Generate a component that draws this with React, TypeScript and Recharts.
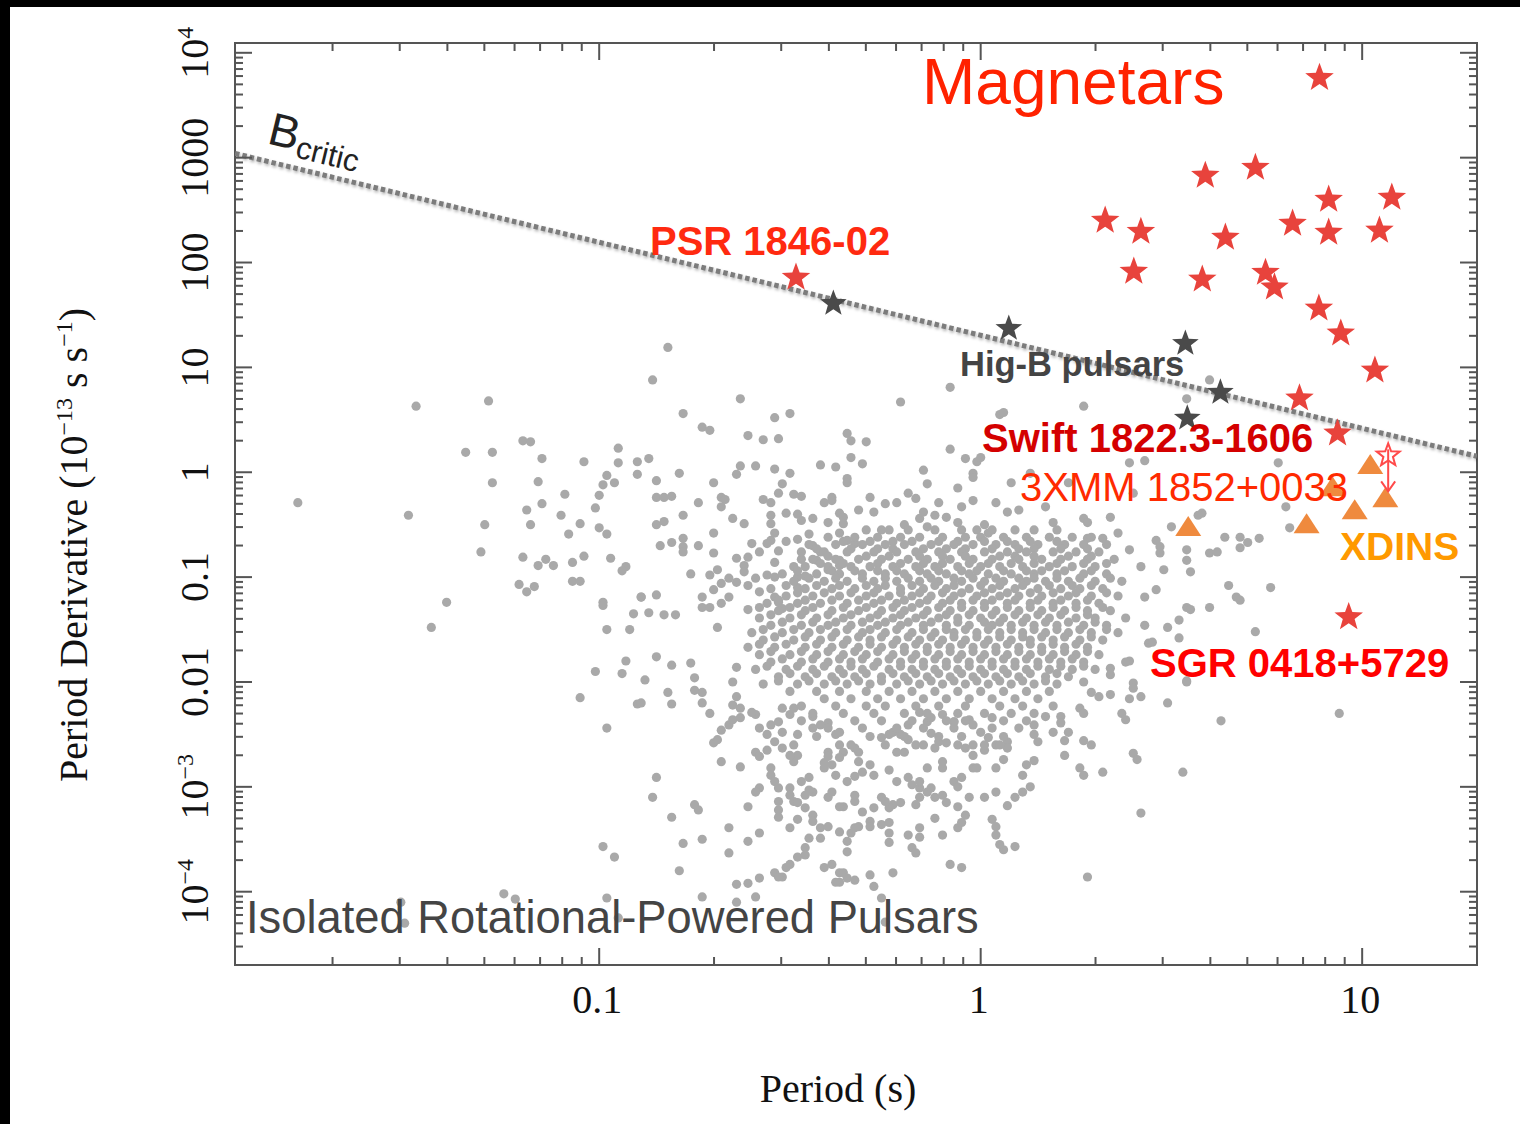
import { ScatterChart, Scatter, XAxis, YAxis, ReferenceArea } from 'recharts';

// ---- axes ----
const X_DOMAIN: [number, number] = [0.0111, 20.0];
const Y_DOMAIN: [number, number] = [2.0e-5, 12400];

const xMajorTicks = [0.1, 1, 10];
const xTickLabels = ['0.1', '1', '10'];
const yMajorTicks = [1e-4, 1e-3, 0.01, 0.1, 1, 10, 100, 1000, 1e4];
const yTickLabels = ['10^−4', '10^−3', '0.01', '0.1', '1', '10', '100', '1000', '10^4'];

// ---- data: period P (s), period derivative Pdot (1e-13 s/s) ----
const magnetars: [number, number][] = [
  [7.73, 5780], [3.88, 674], [5.25, 803], [8.17, 398], [11.96, 416],
  [6.57, 235], [8.17, 193], [11.1, 202], [4.38, 173], [2.63, 197],
  [2.12, 251], [2.52, 82], [3.81, 69], [5.58, 80], [5.89, 58],
  [7.7, 36.5], [8.79, 21.1], [10.8, 9.36], [6.85, 5.07], [8.62, 2.35],
  [9.22, 0.0416], [0.328, 71.9],
];
const highBPulsars: [number, number][] = [
  [0.411, 40.7], [1.185, 23.5], [3.44, 16.9], [4.25, 5.78], [3.48, 3.27],
];
const xdins: [number, number][] = [
  [3.5, 0.30], [7.15, 0.32], [9.56, 0.435], [10.5, 1.17], [11.5, 0.565], [8.36, 0.72],
];
const upperLimit: [number, number][] = [[11.7, 1.45]];
const bCritic: [number, number][] = [[0.0111, 1097], [20.0, 1.42]];

// rotation-powered pulsars, read as [log10 P, log10 Pdot]
const pulsarsOuter: [number, number][] = [
  [-1.79, -0.29], [-1.50, -0.41], [-1.48, 0.63], [-1.29, 0.68], [-1.35, 0.19], [-1.28, 0.19], [-1.20, 0.30], [-1.18, 0.29],
  [-1.15, 0.13], [-1.28, -0.10], [-1.16, -0.09], [-1.04, 0.10], [-0.95, 0.23], [-0.95, 0.09], [-0.90, 0.10], [-0.90, -0.02],
  [-0.98, -0.03], [-0.96, -0.10], [-0.99, -0.12], [-1.00, -0.22], [-1.09, -0.21], [-1.15, -0.30], [-1.19, -0.36], [-1.18, -0.50],
  [-1.30, -0.50], [-1.10, -0.41], [-1.05, -0.49], [-1.08, -0.59], [-1.01, -0.34], [-1.00, -0.53], [-0.98, -0.59], [-1.31, -0.76],
  [-1.20, -0.81], [-1.14, -0.83], [-1.16, -0.89], [-1.12, -0.89], [-1.07, -0.86], [-1.04, -0.80], [-0.97, -0.82], [-0.93, -0.90],
  [-0.94, -0.94], [-1.21, -1.07], [-1.17, -1.09], [-1.19, -1.14], [-1.07, -1.04], [-1.05, -1.04], [-0.99, -1.24], [-0.99, -1.27],
  [-0.91, -1.35], [-0.89, -1.19], [-1.40, -1.24], [-1.44, -1.48], [-0.98, -1.50], [-0.92, -1.50],
  [-0.93, -1.80], [-1.01, -1.90], [-0.94, -1.92], [-1.05, -2.15], [-0.90, -2.21], [-0.98, -2.44], [-0.99, -3.57], [-0.96, -3.67],
  [-1.25, -4.02], [-1.22, -4.07], [-0.98, -4.06], [-0.95, -4.25], [-1.52, -4.10], [-1.51, -4.30],
  // upper middle
  [-0.82, 1.19], [-0.86, 0.88], [-0.63, 0.70], [-0.78, 0.56], [-0.54, 0.52], [-0.50, 0.56], [-0.73, 0.43], [-0.71, 0.40],
  [-0.61, 0.35], [-0.57, 0.31], [-0.53, 0.32], [-0.35, 0.37], [-0.34, 0.30], [-0.30, 0.29], [-0.21, 0.67], [-0.08, 0.81],
  [-0.08, 0.22], [-0.04, 0.13], [-0.01, 0.10], [0.00, 0.14], [-0.02, -0.01], [-0.02, -0.05], [0.05, 0.55], [-0.87, 0.13],
  [-0.79, -0.01], [-0.85, -0.08], [-0.63, 0.06], [-0.64, -0.02], [-0.59, 0.06], [-0.54, 0.03], [-0.50, -0.01], [-0.42, 0.07],
  [-0.38, 0.05], [-0.34, 0.14], [-0.31, 0.08], [-0.35, -0.06], [-0.35, -0.10], [-0.15, 0.02], [-0.14, -0.11], [-0.06, -0.15],
  [-0.70, -0.10], [-0.52, -0.11], [-0.53, -0.20], [-0.49, -0.21], [-0.47, -0.23], [-0.85, -0.24], [-0.83, -0.24], [-0.81, -0.23],
  [-0.74, -0.29], [-0.68, -0.24], [-0.67, -0.26], [-0.68, -0.33], [-0.57, -0.26], [-0.55, -0.29], [-0.41, -0.29], [-0.39, -0.24],
  [-0.39, -0.27], [-0.29, -0.24], [-0.25, -0.30], [-0.22, -0.29], [-0.19, -0.20], [-0.17, -0.25], [-0.11, -0.29], [-0.05, -0.33],
  [-0.02, -0.27], [0.04, -0.29], [-0.32, -0.36], [-0.28, -0.38], [-0.78, -0.41], [-0.85, -0.50], [-0.83, -0.47], [-0.65, -0.44],
  [-0.62, -0.49], [-0.55, -0.41], [-0.55, -0.49], [-0.51, -0.39], [-0.48, -0.40], [-0.47, -0.46], [-0.44, -0.44], [-0.40, -0.48],
  [-0.37, -0.39], [-0.36, -0.43], [-0.36, -0.49], [-0.26, -0.55], [-0.20, -0.50], [-0.16, -0.44], [-0.15, -0.38], [-0.12, -0.41],
  [-0.09, -0.43], [-0.06, -0.48], [-0.14, -0.52], [-0.01, -0.55], [0.01, -0.50], [0.02, -0.58], [-0.70, -0.58], [-0.84, -0.70],
  [-0.81, -0.67], [-0.78, -0.63], [-0.78, -0.71], [-0.78, -0.76], [-0.74, -0.70], [-0.70, -0.77], [-0.60, -0.68], [-0.55, -0.65],
  [-0.54, -0.58], [-0.56, -0.68], [-0.51, -0.66], [-0.48, -0.64], [-0.45, -0.59], [-0.58, -0.76], [-0.53, -0.75], [-0.64, -0.82],
  [-0.61, -0.81], [-0.62, -0.89], [-0.62, -0.95], [-0.54, -0.86], [-0.47, -0.83], [-0.76, -0.97], [-0.71, -0.98], [-0.69, -0.93],
  [-0.66, -1.01], [-0.68, -1.06], [-0.70, -1.12], [-0.73, -1.19], [-0.73, -1.29], [-0.71, -1.29], [-0.68, -1.25], [-0.66, -1.19],
  [-0.64, -1.05], [-0.61, -1.08], [-0.59, -1.01], [-0.56, -0.98], [-0.54, -1.00], [-0.58, -1.14], [-0.54, -1.19], [-0.53, -1.24],
  [-0.52, -1.30], [-0.85, -1.17], [-0.89, -1.19], [-0.87, -1.34], [-0.83, -1.36], [-0.80, -1.36], [-0.69, -1.48], [-0.61, -1.31],
  [-0.58, -1.29], [-0.49, -0.90], [-0.48, -1.00], [-0.46, -0.99], [-0.48, -1.10], [-0.44, -0.70], [-0.42, -0.76], [-0.43, -0.84],
  [-0.40, -0.93], [-0.37, -0.89], [-0.37, -0.84], [-0.33, -0.68], [-0.35, -0.65], [-0.37, -0.58],
  // right side
  [0.60, 0.88], [0.54, 0.70], [0.27, 0.63], [0.06, 0.57], [0.39, 0.09], [0.43, 0.11], [0.78, 0.09], [0.08, -0.10],
  [0.23, -0.10], [0.40, -0.20], [0.10, -0.36], [0.07, -0.38], [0.17, -0.33], [0.19, -0.48], [0.27, -0.44], [0.28, -0.48],
  [0.34, -0.43], [0.58, -0.39], [0.50, -0.52], [0.80, -0.33], [0.81, -0.53], [0.28, -0.63], [0.32, -0.63], [0.36, -0.58],
  [0.39, -0.74], [0.46, -0.65], [0.47, -0.71], [0.47, -0.77], [0.54, -0.74], [0.60, -0.77], [0.62, -0.76], [0.64, -0.62],
  [0.68, -0.62], [0.70, -0.67], [0.73, -0.63], [0.68, -0.72], [0.54, -0.84], [0.42, -0.90], [0.48, -0.93], [0.55, -0.95],
  [0.65, -1.08], [0.76, -1.10], [0.67, -1.19], [0.68, -1.22], [0.60, -1.29], [0.43, -1.19], [0.46, -1.12], [0.49, -1.48],
  [0.43, -1.46], [0.54, -1.29], [0.13, -0.01], [0.72, -1.52], [0.55, -1.31], [0.52, -1.41], [0.54, -2.00], [0.57, -0.41],
  // lower right
  [0.49, -2.20], [0.63, -2.37], [0.94, -2.30], [0.53, -2.86], [0.42, -3.25], [0.28, -3.86], [0.09, -3.57], [0.06, -3.60],
  [0.07, -3.18], [0.09, -3.10], [0.11, -3.05], [0.13, -3.00], [0.11, -2.89], [0.12, -2.79], [0.14, -2.75], [0.22, -2.70],
  [0.26, -2.82], [0.27, -2.89], [0.32, -2.86], [0.40, -2.68], [0.41, -2.74], [0.27, -2.56], [0.29, -2.60], [0.22, -2.56],
  [0.23, -2.48], [0.19, -2.48], [0.14, -2.50], [0.15, -2.57], [0.06, -2.74], [0.07, -2.57], [0.07, -2.63], [0.37, -2.30],
  [0.38, -2.36], [0.39, -2.16], [0.42, -2.14], [0.34, -2.12], [0.31, -2.14], [0.29, -2.10], [0.27, -2.00], [0.40, -2.01],
  [0.40, -2.06], [0.26, -2.25], [0.27, -2.30], [0.21, -2.33], [0.21, -2.39], [0.17, -2.33], [0.14, -2.41], [0.39, -1.80],
  [0.38, -1.81], [0.44, -1.63], [0.45, -1.62], [0.52, -1.58], [0.34, -1.87], [0.34, -1.93], [0.54, -1.99],
  // lower middle
  [-0.85, -1.76], [-0.81, -1.84], [-0.76, -1.82], [-0.88, -1.98], [-0.82, -2.10], [-0.81, -2.21], [-0.89, -2.20], [-0.85, -2.91],
  [-0.86, -3.10], [-0.81, -3.29], [-0.75, -3.17], [-0.74, -3.22], [-0.78, -3.54], [-0.73, -3.50], [-0.79, -3.80], [-0.73, -4.05],
  [-0.66, -3.39], [-0.66, -3.63], [-0.61, -3.52], [-0.64, -3.93], [-0.61, -3.92], [-0.64, -4.10], [-0.59, -4.05], [-0.58, -3.87],
  [-0.54, -3.82], [-0.52, -3.86], [-0.58, -3.44], [-0.61, -3.19], [-0.68, -2.76], [-0.63, -2.81], [-0.70, -2.58], [-0.69, -2.55],
  [-0.68, -2.46], [-0.66, -2.41], [-0.65, -2.36], [-0.71, -2.30], [-0.73, -2.20], [-0.75, -2.08], [-0.73, -2.10], [-0.75, -1.96],
  [-0.64, -1.86], [-0.65, -2.00],
  [-0.56, -2.65], [-0.59, -2.67], [-0.58, -2.71], [-0.55, -2.82], [-0.55, -2.89], [-0.54, -2.95], [-0.53, -3.01], [-0.58, -3.01],
  [-0.59, -3.05], [-0.50, -3.01], [-0.50, -3.08], [-0.49, -3.14], [-0.53, -3.14], [-0.53, -3.22], [-0.53, -3.29], [-0.50, -3.39],
  [-0.48, -3.15], [-0.46, -3.20], [-0.48, -3.31], [-0.46, -3.58], [-0.46, -3.65], [-0.48, -3.67], [-0.50, -3.74], [-0.51, -3.77],
  [-0.53, -3.86], [-0.45, -3.49], [-0.42, -3.49], [-0.44, -3.27], [-0.44, -3.33], [-0.42, -3.39], [-0.40, -3.38], [-0.37, -3.43],
  [-0.41, -3.77], [-0.39, -3.74], [-0.37, -3.82], [-0.36, -3.82], [-0.37, -3.91], [-0.38, -3.91], [-0.35, -3.87], [-0.33, -3.89],
  [-0.29, -3.84], [-0.28, -3.95], [-0.26, -4.06], [-0.23, -3.82], [-0.25, -4.29], [-0.35, -3.52], [-0.35, -3.62], [-0.34, -3.44],
  [-0.33, -3.39], [-0.32, -3.38], [-0.29, -3.33], [-0.29, -3.38], [-0.26, -3.36], [-0.24, -3.34], [-0.24, -3.44], [-0.24, -3.53],
  [-0.19, -3.46], [-0.18, -3.58], [-0.17, -3.63], [-0.16, -3.39], [-0.16, -3.48], [-0.10, -3.46], [-0.08, -3.74], [-0.05, -3.77],
  [-0.06, -3.39], [-0.05, -3.34], [-0.03, -3.10], [0.01, -3.10], [0.03, -3.31], [0.04, -3.38], [0.04, -3.46], [0.05, -3.55],
  [-0.06, -3.19], [-0.04, -3.27], [-0.12, -3.30], [-0.12, -3.10], [-0.09, -3.15], [-0.10, -3.08], [-0.14, -3.05], [-0.16, -3.01],
  [-0.16, -3.10], [-0.17, -3.17], [-0.21, -3.15], [-0.23, -3.17], [-0.24, -3.20], [-0.26, -3.10], [-0.25, -3.14], [-0.28, -3.20],
  [-0.31, -3.24], [-0.33, -3.08], [-0.33, -3.14], [-0.36, -3.19], [-0.37, -3.19], [-0.40, -3.10], [-0.39, -3.05], [-0.44, -3.05],
  [-0.46, -3.08], [-0.45, -3.03], [-0.47, -2.95], [-0.45, -2.91], [-0.41, -2.82], [-0.39, -2.79], [-0.38, -2.89], [-0.35, -2.95],
  [-0.33, -2.90], [-0.31, -2.86], [-0.32, -2.76], [-0.32, -2.67], [-0.33, -2.63], [-0.29, -2.79], [-0.28, -2.89], [-0.24, -2.84],
  [-0.22, -2.95], [-0.19, -2.91], [-0.18, -2.98], [-0.16, -2.95], [-0.13, -3.01], [-0.14, -2.82], [-0.10, -2.76], [-0.10, -2.82],
  [-0.07, -2.95], [-0.06, -3.00], [-0.05, -2.91], [-0.02, -2.82], [-0.01, -2.82], [0.04, -2.82], [0.04, -3.05], [-0.04, -2.63],
  [-0.02, -2.60], [0.01, -2.65], [-0.02, -2.70], [-0.12, -2.63], [-0.11, -2.57], [-0.09, -2.58], [-0.13, -2.49], [-0.14, -2.38],
  [-0.07, -2.38], [-0.03, -2.36], [-0.02, -2.41], [-0.19, -2.55], [-0.17, -2.60], [-0.20, -2.67], [-0.22, -2.67], [-0.19, -2.41],
  [-0.21, -2.50], [-0.23, -2.48], [-0.26, -2.53], [-0.24, -2.50], [-0.37, -2.60], [-0.36, -2.67], [-0.37, -2.72], [-0.40, -2.67],
  [-0.40, -2.71], [-0.41, -2.77], [-0.42, -2.41], [-0.40, -2.39], [-0.38, -2.50], [-0.37, -2.48], [-0.44, -2.33], [-0.44, -2.44],
  [-0.48, -2.50], [-0.49, -2.60], [-0.48, -2.70], [-0.49, -2.76], [-0.52, -2.63], [-0.50, -2.70], [-0.52, -2.48], [-0.56, -2.50],
  [-0.54, -2.57], [-0.55, -2.41], [-0.59, -2.31], [-0.58, -2.44], [-0.60, -2.29], [-0.63, -2.25], [-0.63, -2.34], [-0.65, -2.22],
  [-0.64, -2.14], [-0.53, -2.38], [-0.50, -2.31], [-0.49, -2.25], [-0.52, -2.25], [0.00, -2.48], [0.02, -2.53], [0.04, -2.60],
  [0.01, -2.60], [-0.16, -2.29], [-0.13, -2.34], [-0.10, -2.31], [-0.07, -2.38], [0.03, -2.34],
];

// dense core of the cloud, rows of log10 Pdot with the log10 P values along each row
const pulsarsCore: [number, number[]][] = [
  [-0.55, [-0.30, -0.24, -0.19, -0.12, -0.05, 0.03, 0.09, 0.14, 0.20]],
  [-0.62, [-0.40, -0.33, -0.27, -0.21, -0.16, -0.10, -0.04, 0.00, 0.06, 0.12, 0.18, 0.24, 0.29]],
  [-0.66, [-0.36, -0.29, -0.23, -0.18, -0.11, -0.06, 0.01, 0.07, 0.13, 0.20]],
  [-0.69, [-0.45, -0.38, -0.31, -0.25, -0.20, -0.13, -0.07, -0.02, 0.04, 0.09, 0.15, 0.22, 0.27, 0.33]],
  [-0.73, [-0.43, -0.34, -0.27, -0.23, -0.15, -0.09, -0.04, 0.03, 0.10, 0.14, 0.21, 0.28]],
  [-0.76, [-0.47, -0.41, -0.35, -0.28, -0.22, -0.17, -0.11, -0.05, 0.01, 0.07, 0.12, 0.19, 0.25, 0.31]],
  [-0.80, [-0.40, -0.30, -0.24, -0.16, -0.10, -0.04, 0.05, 0.09, 0.14, 0.23, 0.29]],
  [-0.83, [-0.44, -0.38, -0.32, -0.26, -0.19, -0.14, -0.08, -0.02, 0.03, 0.10, 0.16, 0.21, 0.28, 0.35]],
  [-0.87, [-0.42, -0.36, -0.27, -0.21, -0.15, -0.10, -0.03, 0.02, 0.08, 0.14, 0.20, 0.27, 0.33]],
  [-0.90, [-0.46, -0.40, -0.34, -0.29, -0.23, -0.17, -0.12, -0.06, 0.00, 0.05, 0.11, 0.18, 0.24, 0.30]],
  [-0.94, [-0.48, -0.39, -0.33, -0.27, -0.22, -0.16, -0.11, -0.05, -0.01, 0.06, 0.12, 0.16, 0.22, 0.29]],
  [-0.97, [-0.52, -0.43, -0.37, -0.31, -0.25, -0.20, -0.14, -0.09, -0.03, 0.02, 0.08, 0.14, 0.20, 0.27, 0.33]],
  [-1.01, [-0.45, -0.38, -0.31, -0.25, -0.19, -0.13, -0.07, -0.02, 0.04, 0.10, 0.14, 0.20, 0.26, 0.34]],
  [-1.04, [-0.49, -0.41, -0.35, -0.28, -0.22, -0.16, -0.11, -0.05, 0.01, 0.06, 0.12, 0.17, 0.23, 0.30, 0.37]],
  [-1.08, [-0.51, -0.43, -0.37, -0.30, -0.25, -0.18, -0.12, -0.07, 0.00, 0.05, 0.11, 0.18, 0.24, 0.29]],
  [-1.11, [-0.55, -0.46, -0.39, -0.33, -0.27, -0.21, -0.15, -0.09, -0.03, 0.03, 0.09, 0.15, 0.21, 0.26, 0.32]],
  [-1.15, [-0.48, -0.41, -0.34, -0.28, -0.21, -0.16, -0.10, -0.05, 0.01, 0.07, 0.13, 0.19, 0.25, 0.33]],
  [-1.18, [-0.51, -0.44, -0.37, -0.30, -0.24, -0.18, -0.13, -0.07, -0.01, 0.05, 0.10, 0.16, 0.23, 0.29, 0.36]],
  [-1.22, [-0.53, -0.46, -0.39, -0.32, -0.26, -0.20, -0.14, -0.08, -0.02, 0.03, 0.09, 0.15, 0.21, 0.28]],
  [-1.25, [-0.56, -0.48, -0.42, -0.35, -0.28, -0.22, -0.16, -0.10, -0.05, 0.01, 0.07, 0.13, 0.19, 0.25, 0.31]],
  [-1.29, [-0.50, -0.44, -0.36, -0.30, -0.23, -0.18, -0.11, -0.05, 0.01, 0.07, 0.13, 0.19, 0.25, 0.32]],
  [-1.32, [-0.53, -0.46, -0.39, -0.32, -0.26, -0.20, -0.14, -0.08, -0.02, 0.04, 0.10, 0.16, 0.22, 0.28, 0.34]],
  [-1.36, [-0.55, -0.47, -0.40, -0.34, -0.27, -0.21, -0.15, -0.09, -0.03, 0.03, 0.09, 0.15, 0.21, 0.28]],
  [-1.39, [-0.58, -0.50, -0.43, -0.36, -0.29, -0.23, -0.17, -0.11, -0.06, 0.00, 0.06, 0.12, 0.18, 0.25, 0.30, 0.38]],
  [-1.43, [-0.52, -0.44, -0.38, -0.31, -0.25, -0.19, -0.13, -0.06, 0.01, 0.05, 0.11, 0.17, 0.23, 0.30]],
  [-1.46, [-0.55, -0.47, -0.40, -0.34, -0.27, -0.21, -0.15, -0.09, -0.03, 0.03, 0.08, 0.14, 0.20, 0.27, 0.33]],
  [-1.50, [-0.57, -0.49, -0.42, -0.35, -0.29, -0.22, -0.15, -0.09, -0.04, 0.02, 0.08, 0.14, 0.20, 0.26, 0.33]],
  [-1.53, [-0.60, -0.52, -0.45, -0.38, -0.31, -0.25, -0.18, -0.12, -0.07, -0.01, 0.05, 0.11, 0.17, 0.23, 0.29, 0.36]],
  [-1.57, [-0.54, -0.46, -0.39, -0.32, -0.26, -0.19, -0.13, -0.07, -0.01, 0.05, 0.11, 0.16, 0.22, 0.29]],
  [-1.60, [-0.57, -0.49, -0.42, -0.35, -0.29, -0.22, -0.16, -0.10, -0.04, 0.02, 0.08, 0.13, 0.19, 0.26, 0.32]],
  [-1.64, [-0.58, -0.51, -0.43, -0.36, -0.29, -0.23, -0.17, -0.11, -0.05, 0.01, 0.07, 0.13, 0.19, 0.25]],
  [-1.67, [-0.61, -0.54, -0.46, -0.39, -0.32, -0.26, -0.20, -0.14, -0.08, -0.02, 0.04, 0.10, 0.16, 0.22, 0.28]],
  [-1.71, [-0.55, -0.47, -0.40, -0.33, -0.27, -0.20, -0.14, -0.08, -0.02, 0.04, 0.10, 0.16, 0.22, 0.28]],
  [-1.74, [-0.58, -0.50, -0.43, -0.36, -0.30, -0.23, -0.17, -0.11, -0.05, 0.01, 0.07, 0.13, 0.19, 0.25, 0.31]],
  [-1.78, [-0.52, -0.44, -0.37, -0.31, -0.24, -0.18, -0.12, -0.06, 0.00, 0.06, 0.12, 0.18, 0.24]],
  [-1.81, [-0.55, -0.47, -0.40, -0.34, -0.27, -0.21, -0.15, -0.09, -0.03, 0.03, 0.09, 0.15, 0.21, 0.27]],
  [-1.85, [-0.56, -0.48, -0.41, -0.34, -0.28, -0.21, -0.15, -0.09, -0.03, 0.03, 0.09, 0.15, 0.21, 0.27]],
  [-1.88, [-0.59, -0.51, -0.44, -0.37, -0.31, -0.24, -0.18, -0.12, -0.06, 0.00, 0.06, 0.12, 0.18, 0.24, 0.30]],
  [-1.92, [-0.50, -0.43, -0.36, -0.30, -0.23, -0.17, -0.11, -0.05, 0.01, 0.07, 0.13, 0.20]],
  [-1.95, [-0.53, -0.46, -0.39, -0.33, -0.26, -0.20, -0.14, -0.08, -0.02, 0.04, 0.10, 0.17, 0.23]],
  [-1.99, [-0.53, -0.45, -0.38, -0.32, -0.26, -0.19, -0.13, -0.07, -0.01, 0.05, 0.11, 0.17]],
  [-2.02, [-0.57, -0.48, -0.41, -0.35, -0.29, -0.22, -0.16, -0.10, -0.04, 0.02, 0.08, 0.14, 0.20]],
  [-2.09, [-0.50, -0.43, -0.37, -0.30, -0.24, -0.18, -0.12, -0.06, 0.00, 0.06, 0.12, 0.18]],
  [-2.16, [-0.41, -0.34, -0.27, -0.21, -0.15, -0.09, -0.03, 0.03, 0.09, 0.15]],
  [-2.23, [-0.47, -0.38, -0.30, -0.25, -0.17, -0.11, -0.04, 0.05, 0.11, 0.19]],
  [-2.30, [-0.44, -0.36, -0.28, -0.20, -0.14, -0.06, 0.01, 0.08, 0.14]],
  [-2.37, [-0.47, -0.33, -0.26, -0.18, -0.09, -0.04, 0.06, 0.12]],
  [-2.44, [-0.40, -0.31, -0.22, -0.15, -0.07, 0.03, 0.10]],
  [-2.52, [-0.43, -0.29, -0.20, -0.11, -0.05, 0.06]],
  [-2.60, [-0.34, -0.25, -0.15, -0.06, 0.05]],
];

// ---- layout / style ----
const W = 1520;
const H = 1124;
const PLOT_TOP = 43;
const PLOT_RIGHT = 1477;
const AXIS = '#555';
const SERIF = '"Liberation Serif", "Times New Roman", serif';
const SANS = '"Liberation Sans", Arial, Helvetica, sans-serif';

const toPoints = (arr: [number, number][]) => arr.map(([p, pdot]) => ({ p, pdot }));
const pulsars = [
  ...pulsarsOuter.map(([lp, ld]) => ({ p: 10 ** lp, pdot: 10 ** ld })),
  ...pulsarsCore.flatMap(([ld, row]) => row.map((lp) => ({ p: 10 ** lp, pdot: 10 ** ld }))),
];

const minorTicks = (lo: number, hi: number) => {
  const out: number[] = [];
  for (let e = lo; e <= hi; e++) for (let m = 2; m <= 9; m++) out.push(m * 10 ** e);
  return out;
};
const xTicks = [...xMajorTicks, ...minorTicks(-2, 1)]
  .filter((v) => v > X_DOMAIN[0] && v < X_DOMAIN[1] * 0.99)
  .sort((a, b) => a - b);
const yTicks = [...yMajorTicks, ...minorTicks(-5, 3)]
  .filter((v) => v > Y_DOMAIN[0] * 1.01 && v < Y_DOMAIN[1])
  .sort((a, b) => a - b);

const XTick = (props: any) => {
  const { x, y, payload } = props;
  const i = xMajorTicks.indexOf(payload.value);
  const len = i >= 0 ? 17 : 8;
  return (
    <g>
      <line x1={x} x2={x} y1={y} y2={y - len} stroke={AXIS} strokeWidth={2} />
      <line x1={x} x2={x} y1={PLOT_TOP} y2={PLOT_TOP + len} stroke={AXIS} strokeWidth={2} />
      {i >= 0 && (
        <text x={x - 2} y={y + 48} textAnchor="middle" fontFamily={SERIF} fontSize={40} fill="#111">
          {xTickLabels[i]}
        </text>
      )}
    </g>
  );
};

const YTick = (props: any) => {
  const { x, y, payload } = props;
  const i = yMajorTicks.indexOf(payload.value);
  const len = i >= 0 ? 17 : 8;
  let label: any = null;
  if (i >= 0) {
    const [base, exp] = yTickLabels[i].split('^');
    label = (
      <text
        transform={`translate(${x - 27},${y}) rotate(-90)`}
        textAnchor="middle"
        fontFamily={SERIF}
        fontSize={40}
        fill="#111"
      >
        {base}
        {exp && (
          <tspan dy={-15} fontSize={24}>
            {exp}
          </tspan>
        )}
      </text>
    );
  }
  return (
    <g>
      <line x1={x} x2={x + len} y1={y} y2={y} stroke={AXIS} strokeWidth={2} />
      <line x1={PLOT_RIGHT} x2={PLOT_RIGHT - len} y1={y} y2={y} stroke={AXIS} strokeWidth={2} />
      {label}
    </g>
  );
};

const starPoints = (cx: number, cy: number, R: number, r: number) =>
  Array.from({ length: 10 }, (_, k) => {
    const a = -Math.PI / 2 + (k * Math.PI) / 5;
    const rad = k % 2 === 0 ? R : r;
    return `${(cx + rad * Math.cos(a)).toFixed(2)},${(cy + rad * Math.sin(a)).toFixed(2)}`;
  }).join(' ');

const GrayDot = ({ cx, cy }: any) => <circle cx={cx} cy={cy} r={4.6} fill="#a9a9a9" />;
const RedStar = ({ cx, cy }: any) => <polygon points={starPoints(cx, cy, 15, 6.2)} fill="#e8433c" />;
const DarkStar = ({ cx, cy }: any) => <polygon points={starPoints(cx, cy, 14, 5.8)} fill="#4a4a4a" />;
const Triangle = ({ cx, cy }: any) => (
  <polygon points={`${cx},${cy - 11} ${cx - 13},${cy + 9} ${cx + 13},${cy + 9}`} fill="#ef8a3e" />
);
const OpenStar = ({ cx, cy }: any) => (
  <g stroke="#ff4a4a" strokeWidth={2} fill="none">
    <polygon points={starPoints(cx, cy, 12, 5)} fill="#fff" />
    <line x1={cx} x2={cx} y1={cy - 6} y2={cy + 36} />
    <polyline points={`${cx - 7},${cy + 26} ${cx},${cy + 36} ${cx + 7},${cy + 26}`} />
  </g>
);
const NoDot = () => <g />;

export default function App() {
  return (
    <div style={{ position: 'absolute', left: 0, top: 0, width: W, height: H, background: '#fff' }}>
      <style>{'body{margin:0}.recharts-scatter-line path{filter:drop-shadow(1px 2px 1.5px rgba(0,0,0,0.3))}'}</style>
      <ScatterChart width={W} height={H} margin={{ top: PLOT_TOP, right: W - PLOT_RIGHT, bottom: 0, left: 0 }}>
        <XAxis
          dataKey="p"
          type="number"
          scale="log"
          domain={X_DOMAIN}
          allowDataOverflow
          ticks={xTicks}
          interval={0}
          tick={<XTick />}
          tickLine={false}
          tickSize={0}
          tickMargin={0}
          axisLine={{ stroke: AXIS, strokeWidth: 2 }}
          height={H - 965}
        />
        <YAxis
          dataKey="pdot"
          type="number"
          scale="log"
          domain={Y_DOMAIN}
          allowDataOverflow
          ticks={yTicks}
          interval={0}
          tick={<YTick />}
          tickLine={false}
          tickSize={0}
          tickMargin={0}
          axisLine={{ stroke: AXIS, strokeWidth: 2 }}
          width={235}
        />
        <ReferenceArea
          x1={X_DOMAIN[0]}
          x2={X_DOMAIN[1]}
          y1={Y_DOMAIN[0]}
          y2={Y_DOMAIN[1]}
          fill="none"
          fillOpacity={0}
          stroke={AXIS}
          strokeWidth={2}
        />
        <Scatter data={pulsars} shape={<GrayDot />} isAnimationActive={false} />
        <Scatter
          data={toPoints(bCritic)}
          shape={<NoDot />}
          line={{ stroke: '#7c7c7c', strokeWidth: 5, strokeDasharray: '4.5 3' }}
          isAnimationActive={false}
        />
        <Scatter data={toPoints(highBPulsars)} shape={<DarkStar />} isAnimationActive={false} />
        <Scatter data={toPoints(magnetars)} shape={<RedStar />} isAnimationActive={false} />
        <Scatter data={toPoints(xdins)} shape={<Triangle />} isAnimationActive={false} />
        <Scatter data={toPoints(upperLimit)} shape={<OpenStar />} isAnimationActive={false} />
      </ScatterChart>

      <svg width={W} height={H} style={{ position: 'absolute', left: 0, top: 0, pointerEvents: 'none' }}>
        <text x={922} y={104} fontFamily={SANS} fontSize={64} fill="#ff2200">Magnetars</text>
        <text x={650} y={255} fontFamily={SANS} fontSize={40} fontWeight="bold" fill="#ff2a10">PSR 1846-02</text>
        <text x={960} y={376} fontFamily={SANS} fontSize={34.5} fontWeight="bold" fill="#444">Hig-B pulsars</text>
        <text x={982} y={452} fontFamily={SANS} fontSize={40} fontWeight="bold" fill="#d40000">Swift 1822.3-1606</text>
        <text x={1020} y={501} fontFamily={SANS} fontSize={40} fill="#ff2a00">3XMM 1852+0033</text>
        <text x={1340} y={560} fontFamily={SANS} fontSize={39} fontWeight="bold" fill="#ff9900">XDINS</text>
        <text x={1150} y={677} fontFamily={SANS} fontSize={40} fontWeight="bold" fill="#ff0000">SGR 0418+5729</text>
        <text x={246} y={933} fontFamily={SANS} fontSize={45.3} fill="#444">Isolated Rotational-Powered Pulsars</text>
        <text x={266} y={143} transform="rotate(13.7 266 143)" fontFamily={SANS} fontSize={46} fill="#222">
          B<tspan fontSize={31} dy={7}>critic</tspan>
        </text>
        <text x={838} y={1102} textAnchor="middle" fontFamily={SERIF} fontSize={40} fill="#111">Period (s)</text>
        <text transform="translate(87,545) rotate(-90)" textAnchor="middle" fontFamily={SERIF} fontSize={40} fill="#111">
          Period Derivative (10<tspan dy={-15} fontSize={24}>−13</tspan>
          <tspan dy={15}> s s</tspan>
          <tspan dy={-15} fontSize={24}>−1</tspan>
          <tspan dy={15}>)</tspan>
        </text>
      </svg>

      <div style={{ position: 'absolute', left: 0, top: 0, width: W, height: 7, background: '#000' }} />
      <div style={{ position: 'absolute', left: 0, top: 0, width: 10, height: H, background: '#000' }} />
    </div>
  );
}
